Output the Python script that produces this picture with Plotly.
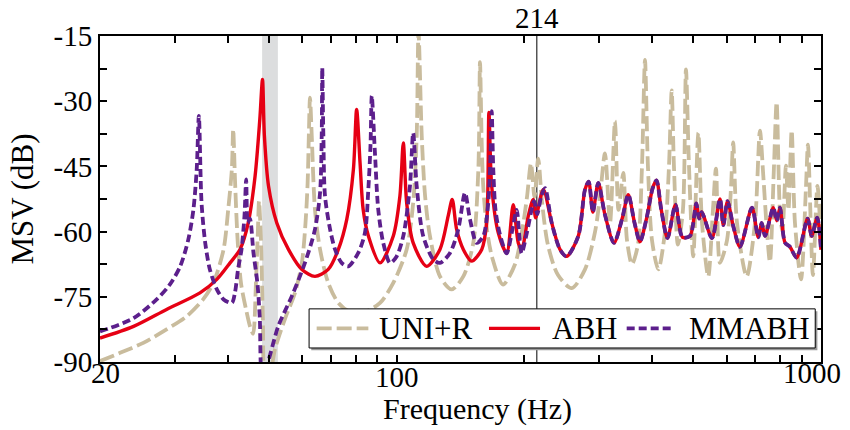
import numpy as np
import plotly.graph_objects as go

# ---------------- data ----------------
UNI_R_FREQ = [20, 22.3, 25.3, 28.7, 32.0, 35.0, 37.0, 39.1, 40.1, 40.9, 41.2,
              41.6, 42.2, 43.0, 44.2, 45.2, 45.9, 46.6, 47.1, 47.4, 47.9, 48.4, 49.0,
              50.3, 51.7, 54.6, 57.6, 59.8, 61.0, 61.7, 62.1, 62.5, 63.1, 64.2, 66.0,
              69.0, 72.9, 78.4, 84, 91.4, 98.2, 105.6, 109.4, 111.5, 112.6, 114.6,
              116.7, 119.8, 126.5, 134.8, 143.6, 151.6, 155.8, 157.2, 158.7, 160.1,
              163.5, 168, 178.1, 190.1, 197.4, 202.9, 207.3, 211.3, 215.6, 220, 227.2,
              240, 258.6, 277.9, 293.5, 301.4, 309.7, 318.3, 327, 333.3, 342, 349,
              358.5, 370.4, 378.6, 384.8, 391, 399.7, 413.7, 429, 438.3, 444.8, 450.3,
              460.1, 472.8, 480.6, 488.6, 500, 514, 524.3, 542.4, 556.4, 565.6, 578,
              600.4, 613.6, 621, 634, 668.2, 698.8, 718, 731, 746, 758, 774.8, 786,
              800, 811.2, 826.8, 838.2, 852.8, 868.2, 897.2, 921.5, 931.6, 957.2,
              980.8, 1000]
UNI_R_DB = [-89.8, -87.9, -85.6, -82.5, -79.5, -75.6, -71.8, -64.1, -54.9, -45.7, -36.5,
            -48, -62, -72, -78, -82, -83.5, -72, -60, -53, -62, -80, -95,
            -93, -87, -80, -74.1, -67.2, -58, -48.8, -38, -29.2, -38, -54.9, -64.1,
            -71.8, -76.4, -78.7, -78.5, -76.4, -71.8, -64.1, -53.4, -38, -14, -38,
            -51.8, -61, -70.3, -73.3, -70.3, -62.6, -45.7, -21, -40, -50,
            -60, -66, -72.2, -67.5, -60, -52, -44.3, -52, -43.2, -53, -63,
            -70, -73, -68.7, -60, -52, -42, -58, -34.6, -55, -46.5, -62,
            -67.5, -63, -45, -20.5, -45, -62, -68.7, -60, -45, -27.5, -45,
            -63, -55, -22.7, -45, -65.7, -37.3, -58, -70.3, -55, -45.5, -67.2,
            -62, -50, -39.5, -58, -70.3, -58, -36.8, -47, -60, -67, -45, -30.2,
            -55, -60, -44.8, -55, -36.7, -58, -71, -50, -40, -70,
            -49.5, -62.5]

ABH_FREQ = [20, 24.0, 28.7, 34.4, 37.7, 40.5, 42.8, 44.7, 46.4, 47.6, 48.3, 48.8,
            49.9, 52.2, 55.6, 59.8, 64.2, 69.0, 72.9, 76.3, 79.1, 80.5, 82.0, 83.4,
            85.8, 91.4, 98.2, 101.8, 103.7, 105.6, 109.4, 117.7, 126.5, 132.3, 135.2,
            138.5, 143.6, 150.2, 158.7, 163.0, 165.0, 167.5, 173.6, 181.7, 188.3,
            193.5, 197.1, 204.3, 209.8, 212.6, 221.6, 232, 242.6, 251.6, 268, 277.9,
            283.5, 290, 298.6, 309.5, 325.2, 340, 351.5, 363.6, 374.5, 388, 401.2,
            409.6, 420.4, 434.9, 454, 471.6, 491.3, 508.3, 516, 523.4, 553.4, 578,
            588.6, 602.2, 621.1, 644.2, 687.6, 711.5, 724.8, 738, 771.9, 786.2,
            800.4, 822.4, 845, 876.4, 930, 950.6, 979.6, 1000]
ABH_DB = [-84.5, -81.8, -77.9, -74.1, -71, -67.2, -64, -58, -47.2, -34.2, -25, -38,
          -49.5, -58, -64.1, -68.7, -70.3, -68.7, -64.1, -57.2, -45.7, -31.9, -44.2, -54.9,
          -61, -67.2, -61, -51.8, -39.6, -53.4, -62.6, -68, -64.1, -56.4, -52.6,
          -59.5, -64.1, -66.8, -64.1, -58, -32.6, -49.5, -60.3, -64.9, -53.8,
          -62.6, -64.1, -56.4, -52.6, -56.8, -50.3, -58, -64.1, -65.7, -61, -50.3,
          -48.5, -55.5, -48.8, -56, -62.6, -57, -51.5, -58, -62.3, -57, -50,
          -48.2, -55, -61.5, -53.8, -61.3, -61, -53.5, -57, -55.5, -61.5, -52.5,
          -58.5, -53, -58.7, -63.5, -54.5, -61.3, -58, -61, -54.5, -57.5,
          -54.5, -62.5, -63.5, -66, -57, -61, -56.8, -64.2]

MMABH_FREQ = [20, 24.0, 27.2, 29.2, 30.9, 32.3, 33.2, 33.8, 34.2, 34.7, 35.4, 36.3,
              37.7, 39.1, 40.9, 41.6, 42.3, 43.1, 43.8, 44.2, 44.6, 45.1, 46.0, 47.0,
              47.6, 48.2, 49.4, 52.6, 56.6, 60.8, 64.2, 66.0, 66.6, 66.8, 67.2, 67.8,
              69.7, 71.6, 74.2, 76.9, 81.2, 84.2, 85.8, 86.8, 87.4, 88.9, 90.5, 93.0,
              96.5, 100, 103.7, 107.5, 109.4, 111.5, 115.5, 122, 126.5, 133.6, 139.7,
              144.9, 148.9, 154.4, 160.1, 164.4, 166.5, 167.5, 169, 171, 175, 181.7,
              187, 191.8, 195, 197.1, 203, 208, 211, 214.5, 219, 223.7, 232, 242.6,
              251.6, 268, 277.9, 283.5, 290, 298.6, 309.5, 325.2, 340, 351.5, 363.6,
              374.5, 388, 401.2, 409.6, 420.4, 434.9, 454, 471.6, 491.3, 508.3, 516,
              523.4, 553.4, 578, 588.6, 602.2, 621.1, 644.2, 687.6, 711.5, 724.8, 738,
              771.9, 786.2, 800.4, 822.4, 845, 876.4, 930, 950.6, 979.6, 1000]
MMABH_DB = [-83, -79.9, -75.6, -72.2, -68, -61.8, -54.9, -45.7, -33.4, -53.4, -62.6, -68.7,
            -73.3, -75.6, -76.4, -74, -68.7, -64.1, -56.4, -48, -58, -57, -65, -72,
            -80, -93, -91, -81.8, -74.9, -67.2, -59.5, -51.1, -38, -22.3, -38, -51.8,
            -59.5, -64.1, -67.2, -68, -64.9, -60.3, -50, -40, -28.8, -41.9, -54.9, -62.6,
            -67.2, -65.7, -61, -49.5, -37.3, -49.5, -61, -66.4, -67.2, -64.9, -59.5,
            -51.1, -57.2, -62.6, -61, -53.4, -42, -32.3, -46, -55, -60.5, -65,
            -60, -55, -62, -65, -60, -55, -53, -56, -52, -50, -58, -64.1,
            -65.7, -61, -50.3, -48.5, -55.5, -48.8, -56, -62.6, -57, -51.5, -58,
            -62.3, -57, -50, -48.2, -55, -61.5, -53.8, -61.3, -61, -53.5, -57,
            -55.5, -61.5, -52.5, -58.5, -53, -58.7, -63.5, -54.5, -61.3, -58, -61,
            -54.5, -57.5, -54.5, -62.5, -63.5, -66, -57, -61, -56.8, -64.2]

SERIES_NAMES = ["UNI+R", "ABH", "MMABH"]
BAND_HZ = [48.2, 52.5]
MARK_HZ = 214

X_TICK_VALS = [20, 30, 40, 50, 60, 70, 80, 90, 100, 200, 300, 400, 500, 600, 700, 800, 900, 1000]
X_TICK_TEXT = ["", "", "", "", "", "", "", "", "100", "", "", "", "", "", "", "", "", ""]
X_START_LABEL = "20"
X_END_LABEL = "1000"
Y_TICK_VALS = [-90, -82.5, -75, -67.5, -60, -52.5, -45, -37.5, -30, -22.5, -15]
Y_TICK_TEXT = ["-90", "", "-75", "", "-60", "", "-45", "", "-30", "", "-15"]

# ---------------- styling ----------------
FONT = "Liberation Serif, Times New Roman, serif"
TAN = "#C9BC9D"
RED = "#E60014"
PURPLE = "#5C1F8C"
STYLES = [dict(color=TAN, width=3.8, dash="15px,5px"),
          dict(color=RED, width=3.4, dash="solid"),
          dict(color=PURPLE, width=3.8, dash="8px,4px")]

fig = go.Figure()
for name, xs, ys, st in zip(SERIES_NAMES, [UNI_R_FREQ, ABH_FREQ, MMABH_FREQ],
                            [UNI_R_DB, ABH_DB, MMABH_DB], STYLES):
    fig.add_trace(go.Scatter(x=xs, y=ys, name=name, mode="lines", showlegend=False,
                             line=dict(shape="spline", smoothing=0.8, **st)))

fig.add_shape(type="rect", xref="x", yref="paper", x0=BAND_HZ[0], x1=BAND_HZ[1], y0=0, y1=1,
              fillcolor="#DCDDDE", line_width=0, layer="below")
fig.add_shape(type="line", xref="x", yref="paper", x0=MARK_HZ, x1=MARK_HZ, y0=0, y1=1,
              line=dict(color="black", width=1), layer="below")
fig.add_annotation(x=np.log10(MARK_HZ), xref="x", y=1, yref="paper", yanchor="bottom",
                   text=str(MARK_HZ), showarrow=False, borderpad=0,
                   font=dict(family=FONT, size=29, color="black"), yshift=1)

# ---------------- legend (boxed, horizontal) ----------------
LEG_X0, LEG_X1, LEG_Y0, LEG_Y1 = 0.290, 0.992, 0.043, 0.163
LEG_YC = 0.103
LEG_SAMPLES = [(0.3005, 0.3722, 0.3842), (0.5395, 0.6103, 0.6241), (0.7305, 0.7952, 0.8137)]
fig.add_shape(type="rect", xref="paper", yref="paper",
              x0=LEG_X0 + 0.003, x1=LEG_X1 + 0.003, y0=LEG_Y0 - 0.007, y1=LEG_Y1 - 0.007,
              fillcolor="#9a9a9a", line_width=0, layer="above")
fig.add_shape(type="rect", xref="paper", yref="paper", x0=LEG_X0, x1=LEG_X1, y0=LEG_Y0, y1=LEG_Y1,
              fillcolor="white", line=dict(color="black", width=1), layer="above")
for name, st, (sx0, sx1, tx) in zip(SERIES_NAMES, STYLES, LEG_SAMPLES):
    fig.add_shape(type="line", xref="paper", yref="paper", x0=sx0, x1=sx1, y0=LEG_YC, y1=LEG_YC,
                  line=st, layer="above")
    fig.add_annotation(x=tx, xref="paper", y=LEG_YC, yref="paper", xanchor="left", yanchor="middle",
                       text=name, showarrow=False, font=dict(family=FONT, size=31, color="black"))

axis_common = dict(showline=True, linecolor="black", linewidth=2, mirror="ticks",
                   ticks="inside", ticklen=7, tickwidth=1.5, tickcolor="black",
                   showgrid=False, zeroline=False, automargin=False,
                   tickfont=dict(family=FONT, size=29, color="black"))

fig.update_xaxes(type="log", range=[np.log10(20), np.log10(1000)],
                 tickvals=X_TICK_VALS, ticktext=X_TICK_TEXT, ticklabelstandoff=-12,
                 **axis_common)
fig.update_yaxes(range=[-90, -15], tickvals=Y_TICK_VALS, ticktext=Y_TICK_TEXT,
                 ticklabelstandoff=0,
                 title=dict(text="MSV (dB)", font=dict(family=FONT, size=31, color="black"), standoff=11),
                 **axis_common)

# end tick labels, pulled inward as in the reference
fig.add_annotation(x=np.log10(X_TICK_VALS[0]), xref="x", y=0, yref="paper", xanchor="center",
                   yanchor="top", text=X_START_LABEL, showarrow=False, xshift=5, yshift=7,
                   font=dict(family=FONT, size=29, color="black"))
fig.add_annotation(x=np.log10(X_TICK_VALS[-1]), xref="x", y=0, yref="paper", xanchor="right",
                   yanchor="top", text=X_END_LABEL, showarrow=False, xshift=22, yshift=7,
                   font=dict(family=FONT, size=29, color="black"))

fig.add_annotation(x=0.524, xref="paper", y=-0.143, yref="paper", xanchor="center", yanchor="middle",
                   text="Frequency (Hz)", showarrow=False, font=dict(family=FONT, size=30, color="black"))

fig.update_layout(
    width=850, height=430,
    margin=dict(l=100, r=29, t=36, b=68),
    paper_bgcolor="white", plot_bgcolor="white",
    font=dict(family=FONT, color="black"),
    showlegend=False,
)

fig.write_html("out.html", config={"displayModeBar": False},
               post_script="document.body.style.margin='0';document.body.style.padding='0';")
